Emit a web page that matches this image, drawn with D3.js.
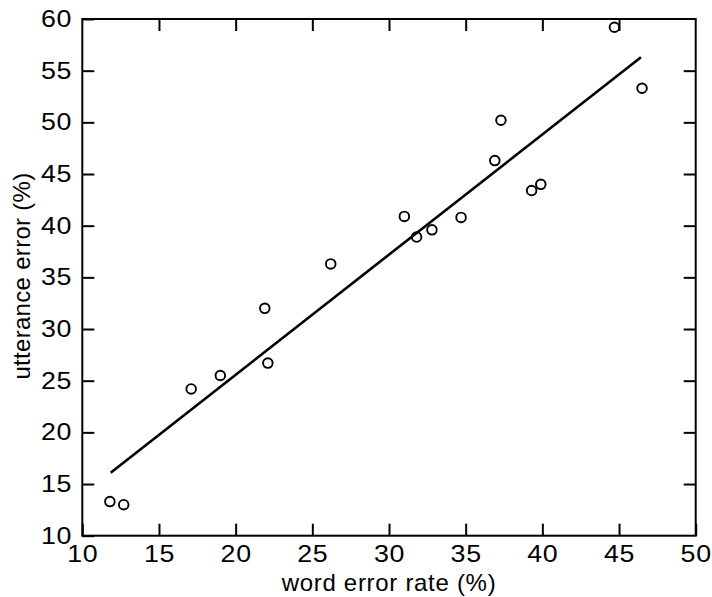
<!DOCTYPE html>
<html>
<head>
<meta charset="utf-8">
<script src="https://cdn.jsdelivr.net/npm/d3@7"></script>
<style>
  html, body { margin: 0; padding: 0; background: #fff; }
  svg { display: block; }
</style>
</head>
<body>
<svg id="chart" width="712" height="597"></svg>
<script>
// Data
const wordErrorRate = [11.8, 12.7, 17.1, 19.0, 22.1, 21.9, 26.2, 31.0, 31.8, 32.8, 34.7, 36.9, 37.3, 39.3, 39.9, 44.7, 46.5];
const utteranceError = [13.3, 13.0, 24.2, 25.5, 26.7, 32.0, 36.3, 40.9, 38.9, 39.6, 40.8, 46.3, 50.2, 43.4, 44.0, 59.2, 53.3];
const fitX = [11.85, 46.43];
const fitY = [16.1, 56.3];
const xTicks = [10, 15, 20, 25, 30, 35, 40, 45, 50];
const yTicks = [10, 15, 20, 25, 30, 35, 40, 45, 50, 55, 60];
const xTitle = "word error rate (%)";
const yTitle = "utterance error (%)";

const svg = d3.select("#chart");
const x = d3.scaleLinear().domain([10, 50]).range([82.3, 695.7]);
const y = d3.scaleLinear().domain([10, 60]).range([535.7, 19]);
const font = "'Liberation Sans', Arial, Helvetica, sans-serif";

svg.append("rect").attr("width", 712).attr("height", 597).attr("fill", "#fff");

function styleAxis(g) {
  g.select(".domain").remove();
  g.selectAll(".tick line").attr("stroke", "#000").attr("stroke-width", 2);
  g.selectAll(".tick text").attr("fill", "#000").style("font-family", font).style("font-size", "23.5px")
    .attr("letter-spacing", "0.6px").attr("transform", "scale(1.14,1)");
}

svg.append("g").attr("transform", `translate(0,${y(10)})`)
  .call(d3.axisBottom(x).tickValues(xTicks).tickSizeInner(-12).tickSizeOuter(0).tickPadding(10).tickFormat(d3.format("d")))
  .call(styleAxis);
svg.append("g").attr("transform", `translate(0,${y(60)})`)
  .call(d3.axisTop(x).tickValues(xTicks.slice(1, -1)).tickSizeInner(-12).tickSizeOuter(0).tickFormat(""))
  .call(styleAxis);
svg.append("g").attr("transform", `translate(${x(10)},0)`)
  .call(d3.axisLeft(y).tickValues(yTicks).tickSizeInner(-12).tickSizeOuter(0).tickPadding(9).tickFormat(d3.format("d")))
  .call(styleAxis);
svg.append("g").attr("transform", `translate(${x(50)},0)`)
  .call(d3.axisRight(y).tickValues(yTicks.slice(1, -1)).tickSizeInner(-12).tickSizeOuter(0).tickFormat(""))
  .call(styleAxis);

// frame
svg.append("rect")
  .attr("x", x(10)).attr("y", y(60))
  .attr("width", x(50) - x(10)).attr("height", y(10) - y(60))
  .attr("fill", "none").attr("stroke", "#000").attr("stroke-width", 2);

// fit line
svg.append("path")
  .datum(fitX.map((d, i) => [d, fitY[i]]))
  .attr("d", d3.line().x(d => x(d[0])).y(d => y(d[1])))
  .attr("fill", "none").attr("stroke", "#000").attr("stroke-width", 2.6);

// points
svg.append("g").selectAll("circle")
  .data(wordErrorRate.map((d, i) => [d, utteranceError[i]]))
  .join("circle")
  .attr("cx", d => x(d[0])).attr("cy", d => y(d[1])).attr("r", 4.8)
  .attr("fill", "none").attr("stroke", "#000").attr("stroke-width", 1.9);

// titles
svg.append("text")
  .attr("x", (x(10) + x(50)) / 2).attr("y", 591)
  .attr("text-anchor", "middle")
  .style("font-family", font).style("font-size", "24px").attr("letter-spacing", "0.7px")
  .text(xTitle);
svg.append("text")
  .attr("transform", `translate(30,${276}) rotate(-90)`)
  .attr("text-anchor", "middle")
  .style("font-family", font).style("font-size", "24px").attr("letter-spacing", "0.3px")
  .text(yTitle);
</script>
</body>
</html>
